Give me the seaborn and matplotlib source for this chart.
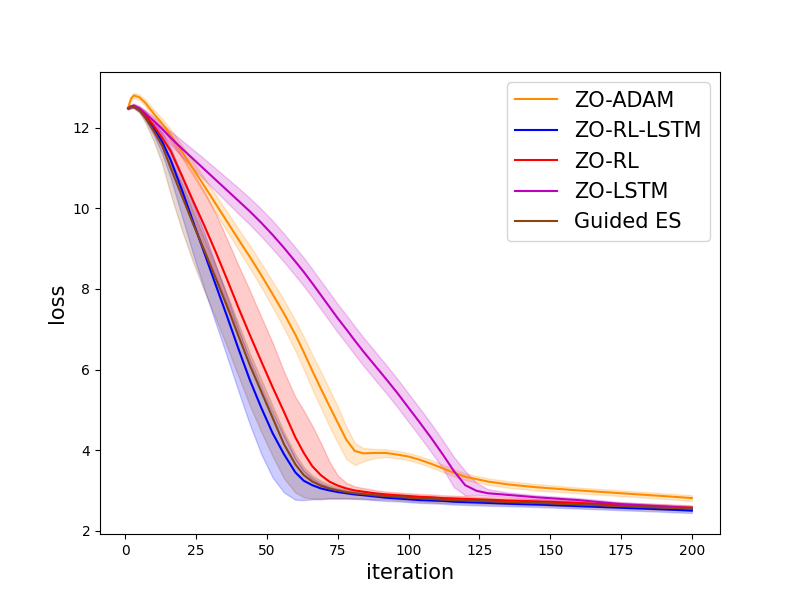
import matplotlib
matplotlib.use('Agg')
from matplotlib import pyplot as plt
import numpy as np
import pandas as pd
import seaborn as sns

iters = [1, 2, 3, 5, 7, 10, 13, 16, 20, 24, 28, 32, 36, 40, 44, 48, 52, 56, 60, 63,
         66, 69, 72, 75, 78, 81, 84, 88, 92, 96, 100, 104, 108, 112, 116, 120, 124, 128,
         135, 145, 160, 175, 190, 200]

labels = ['ZO-ADAM', 'ZO-RL-LSTM', 'ZO-RL', 'ZO-LSTM', 'Guided ES']
colors = ['darkorange', 'b', 'r', 'm', 'saddlebrown']

# mean loss
adam = [12.5, 12.72, 12.8, 12.75, 12.62, 12.35, 12.1, 11.82, 11.4, 10.97, 10.54, 10.1, 9.66, 9.22,
        8.79, 8.34, 7.87, 7.39, 6.87, 6.43, 5.97, 5.53, 5.1, 4.68, 4.26, 3.98, 3.92, 3.93, 3.93, 3.89,
        3.84, 3.76, 3.66, 3.55, 3.44, 3.34, 3.28, 3.22, 3.15, 3.08, 3.0, 2.93, 2.86, 2.81]
rl_lstm = [12.48, 12.52, 12.53, 12.45, 12.3, 12.0, 11.65, 11.2, 10.45, 9.65, 8.87, 8.08, 7.3, 6.5,
           5.73, 5.05, 4.42, 3.9, 3.45, 3.24, 3.13, 3.05, 3.0, 2.96, 2.93, 2.9, 2.88, 2.85, 2.82, 2.8,
           2.78, 2.76, 2.75, 2.74, 2.72, 2.71, 2.7, 2.69, 2.67, 2.65, 2.61, 2.57, 2.53, 2.5]
rl = [12.48, 12.52, 12.53, 12.46, 12.32, 12.05, 11.75, 11.42, 10.8, 10.17, 9.55, 8.9, 8.22, 7.52,
      6.85, 6.2, 5.56, 4.95, 4.32, 3.93, 3.6, 3.38, 3.22, 3.12, 3.05, 3.0, 2.97, 2.93, 2.9, 2.88,
      2.86, 2.84, 2.83, 2.81, 2.8, 2.79, 2.78, 2.77, 2.75, 2.73, 2.69, 2.64, 2.6, 2.57]
lstm = [12.48, 12.53, 12.55, 12.47, 12.35, 12.17, 11.97, 11.75, 11.48, 11.22, 10.96, 10.7, 10.44, 10.18,
        9.92, 9.64, 9.34, 9.02, 8.68, 8.42, 8.14, 7.85, 7.56, 7.27, 7.0, 6.72, 6.45, 6.11, 5.77, 5.42,
        5.05, 4.68, 4.3, 3.9, 3.48, 3.13, 2.99, 2.93, 2.89, 2.83, 2.76, 2.66, 2.6, 2.56]
guided = [12.48, 12.51, 12.52, 12.43, 12.25, 11.92, 11.55, 11.0, 10.3, 9.6, 8.93, 8.25, 7.55, 6.82,
          6.1, 5.45, 4.8, 4.15, 3.65, 3.38, 3.22, 3.12, 3.05, 3.0, 2.96, 2.93, 2.91, 2.88, 2.86, 2.84,
          2.82, 2.8, 2.79, 2.77, 2.76, 2.75, 2.74, 2.73, 2.71, 2.69, 2.65, 2.61, 2.57, 2.55]

# band spread below / above the mean
adam_lo = [0.03, 0.05, 0.06, 0.07, 0.08, 0.1, 0.12, 0.14, 0.16, 0.18, 0.2, 0.22, 0.24, 0.26,
           0.28, 0.3, 0.33, 0.36, 0.4, 0.43, 0.46, 0.48, 0.5, 0.5, 0.48, 0.35, 0.2, 0.13, 0.1, 0.09,
           0.09, 0.09, 0.09, 0.09, 0.09, 0.08, 0.08, 0.08, 0.08, 0.08, 0.07, 0.07, 0.07, 0.07]
adam_hi = [0.03, 0.05, 0.06, 0.07, 0.08, 0.1, 0.12, 0.14, 0.16, 0.18, 0.2, 0.22, 0.24, 0.26,
           0.28, 0.3, 0.31, 0.33, 0.35, 0.38, 0.4, 0.42, 0.42, 0.4, 0.32, 0.2, 0.13, 0.1, 0.09, 0.09,
           0.09, 0.09, 0.09, 0.09, 0.09, 0.08, 0.08, 0.08, 0.08, 0.08, 0.07, 0.07, 0.07, 0.07]
rl_lstm_lo = [0.02, 0.03, 0.04, 0.06, 0.1, 0.18, 0.3, 0.45, 0.65, 0.8, 0.9, 0.95, 1.0, 1.05,
              1.1, 1.15, 1.1, 0.95, 0.68, 0.48, 0.35, 0.27, 0.2, 0.16, 0.13, 0.11, 0.1, 0.09, 0.08, 0.07,
              0.07, 0.07, 0.07, 0.07, 0.07, 0.07, 0.07, 0.07, 0.06, 0.06, 0.06, 0.06, 0.06, 0.06]
rl_lstm_hi = [0.02, 0.03, 0.04, 0.06, 0.1, 0.15, 0.22, 0.3, 0.38, 0.45, 0.5, 0.5, 0.5, 0.5,
              0.5, 0.5, 0.5, 0.45, 0.35, 0.25, 0.18, 0.13, 0.1, 0.08, 0.07, 0.07, 0.07, 0.07, 0.07, 0.07,
              0.07, 0.07, 0.07, 0.07, 0.07, 0.07, 0.07, 0.07, 0.06, 0.06, 0.06, 0.06, 0.06, 0.06]
rl_lo = [0.02, 0.03, 0.04, 0.06, 0.1, 0.15, 0.25, 0.35, 0.5, 0.6, 0.6, 0.6, 0.6, 0.6,
         0.6, 0.6, 0.6, 0.6, 0.55, 0.45, 0.35, 0.28, 0.2, 0.15, 0.12, 0.1, 0.08, 0.08, 0.08, 0.07,
         0.07, 0.07, 0.07, 0.06, 0.06, 0.06, 0.06, 0.06, 0.05, 0.05, 0.05, 0.05, 0.05, 0.05]
rl_hi = [0.02, 0.03, 0.04, 0.06, 0.1, 0.15, 0.25, 0.35, 0.5, 0.7, 0.85, 0.95, 1.0, 1.05,
         1.1, 1.1, 1.1, 1.0, 1.0, 1.05, 1.0, 0.8, 0.5, 0.25, 0.14, 0.1, 0.09, 0.08, 0.07, 0.07,
         0.07, 0.07, 0.07, 0.07, 0.07, 0.07, 0.07, 0.07, 0.06, 0.06, 0.06, 0.06, 0.06, 0.06]
lstm_lo = [0.03, 0.04, 0.05, 0.06, 0.08, 0.1, 0.13, 0.16, 0.2, 0.23, 0.26, 0.28, 0.3, 0.32,
           0.33, 0.34, 0.35, 0.35, 0.35, 0.35, 0.35, 0.35, 0.35, 0.35, 0.35, 0.35, 0.35, 0.35, 0.35, 0.35,
           0.35, 0.35, 0.35, 0.35, 0.4, 0.25, 0.1, 0.06, 0.05, 0.05, 0.05, 0.05, 0.05, 0.05]
lstm_hi = [0.03, 0.04, 0.05, 0.06, 0.08, 0.1, 0.13, 0.16, 0.2, 0.23, 0.26, 0.28, 0.3, 0.32,
           0.33, 0.34, 0.35, 0.35, 0.35, 0.35, 0.35, 0.35, 0.35, 0.35, 0.35, 0.35, 0.35, 0.35, 0.35, 0.35,
           0.35, 0.35, 0.35, 0.35, 0.35, 0.35, 0.2, 0.1, 0.06, 0.05, 0.05, 0.05, 0.05, 0.05]
guided_lo = [0.02, 0.03, 0.04, 0.06, 0.12, 0.25, 0.45, 0.65, 0.85, 0.95, 1.0, 1.0, 1.0, 1.0,
             1.0, 1.0, 0.95, 0.85, 0.7, 0.55, 0.42, 0.32, 0.25, 0.2, 0.16, 0.13, 0.11, 0.1, 0.08, 0.08,
             0.08, 0.08, 0.08, 0.08, 0.07, 0.07, 0.07, 0.07, 0.06, 0.06, 0.06, 0.06, 0.06, 0.06]
guided_hi = [0.02, 0.03, 0.04, 0.06, 0.08, 0.1, 0.15, 0.2, 0.3, 0.3, 0.3, 0.3, 0.3, 0.3,
             0.3, 0.3, 0.3, 0.3, 0.25, 0.2, 0.15, 0.12, 0.1, 0.08, 0.07, 0.07, 0.07, 0.07, 0.07, 0.07,
             0.07, 0.07, 0.07, 0.07, 0.07, 0.07, 0.07, 0.07, 0.06, 0.06, 0.06, 0.06, 0.06, 0.06]

means = [adam, rl_lstm, rl, lstm, guided]
lows = [adam_lo, rl_lstm_lo, rl_lo, lstm_lo, guided_lo]
highs = [adam_hi, rl_lstm_hi, rl_hi, lstm_hi, guided_hi]

fig, ax = plt.subplots(figsize=(8, 6), dpi=100)

for name, col, m, lo, hi in zip(labels, colors, means, lows, highs):
    df = pd.DataFrame({'iteration': iters, 'loss': m})
    m = np.array(m)
    sns.lineplot(data=df, x='iteration', y='loss', color=col, label=name, ax=ax, linewidth=1.5)
    # band keeps the default thin edge, like the original
    ax.fill_between(iters, m - np.array(lo), m + np.array(hi), color=col, alpha=0.2)

ax.set_xlabel('iteration', fontsize=15)
ax.set_ylabel('loss', fontsize=15)
ax.set_xticks([0, 25, 50, 75, 100, 125, 150, 175, 200])
ax.set_yticks([2, 4, 6, 8, 10, 12])
ax.legend(loc='upper right', fontsize=15)

plt.savefig('out.png')
